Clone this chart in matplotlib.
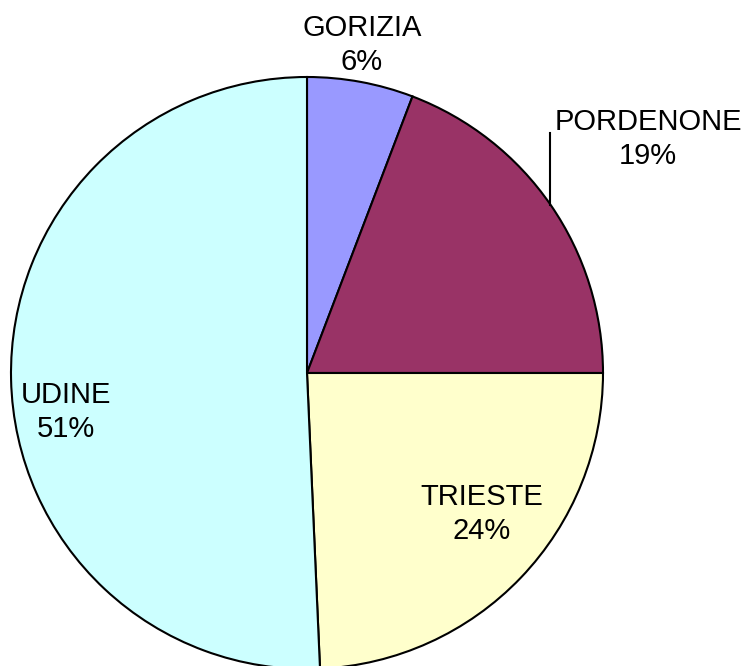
import matplotlib.pyplot as plt

provinces = ["GORIZIA", "PORDENONE", "TRIESTE", "UDINE"]
shares = [5.8, 19.2, 24.3, 50.7]
pct_labels = ["6%", "19%", "24%", "51%"]
colors = ["#9999FF", "#993366", "#FFFFCC", "#CCFFFF"]

plt.rcParams['font.family'] = ['Liberation Sans', 'DejaVu Sans']

fig = plt.figure(figsize=(7.47, 6.66), dpi=100)
ax = fig.add_axes([0, 0, 1, 1])

# pixel-like data coords (y up)
cx, cy, r = 307, 666 - 373, 296
ax.pie(shares, colors=colors, startangle=90, counterclock=False,
       center=(cx, cy), radius=r,
       wedgeprops=dict(edgecolor="black", linewidth=1.5))

ax.set_xlim(0, 747)
ax.set_ylim(0, 666)
ax.set_aspect("equal")
ax.axis("off")

# (x centre, y of first line) in pixels from top
label_pos = [(362, 28), (648, 122), (482, 497), (66, 395)]
for name, pct, (x, y) in zip(provinces, pct_labels, label_pos):
    ax.text(x, 666 - y, name, ha="center", va="center", fontsize=21)
    ax.text(x, 666 - y - 34, pct, ha="center", va="center", fontsize=21)

# leader line for PORDENONE
ax.plot([550, 550], [666 - 133, 666 - 205], color="black", linewidth=1.5)

fig.savefig("out.png", dpi=100)
